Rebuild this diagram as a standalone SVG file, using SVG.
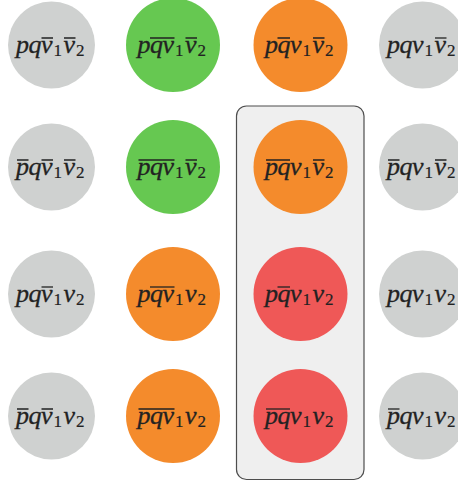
<svg xmlns="http://www.w3.org/2000/svg" width="458" height="483" viewBox="0 0 458 483">
<style>
.gray{fill:#cfd1d0}.green{fill:#66c851}.orange{fill:#f48b2c}.red{fill:#ef5857}
.lbl{font-family:'Liberation Serif','Times New Roman',serif;font-style:italic;font-size:26px;fill:#222;stroke:#222;stroke-width:0.3}
.sub{font-style:normal;font-size:17px;stroke-width:0.2}
.bar{stroke:#222;stroke-width:1.3;fill:none}
.box{fill:#efefef;stroke:#4d4d4d;stroke-width:1.2}
</style>
<rect class="box" x="236.5" y="106" width="127.5" height="373.5" rx="10"/>
<g id="connectors"/>
<!-- Row 1 -->
<g id="r1c1"><circle class="gray" cx="51.5" cy="45" r="43.5"/>
<text class="lbl" y="53.3"><tspan x="16">p</tspan><tspan x="28.5">q</tspan><tspan x="41">v</tspan><tspan class="sub" x="53.5" y="56">1</tspan><tspan x="63.5" y="53.3">v</tspan><tspan class="sub" x="76" y="56">2</tspan></text>
<path class="bar" d="M41.5 38H53M64 38H75.5"/></g>
<g id="r1c2"><circle class="green" cx="173" cy="45" r="47"/>
<text class="lbl" y="53.3"><tspan x="137.5">p</tspan><tspan x="150">q</tspan><tspan x="162.5">v</tspan><tspan class="sub" x="175" y="56">1</tspan><tspan x="185" y="53.3">v</tspan><tspan class="sub" x="197.5" y="56">2</tspan></text>
<path class="bar" d="M150 38H174.5M185.5 38H197"/></g>
<g id="r1c3"><circle class="orange" cx="300.5" cy="45" r="47"/>
<text class="lbl" y="53.3"><tspan x="265">p</tspan><tspan x="277.5">q</tspan><tspan x="290">v</tspan><tspan class="sub" x="302.5" y="56">1</tspan><tspan x="312.5" y="53.3">v</tspan><tspan class="sub" x="325" y="56">2</tspan></text>
<path class="bar" d="M277.5 38H290M313 38H324.5"/></g>
<g id="r1c4"><circle class="gray" cx="422.5" cy="45" r="43.5"/>
<text class="lbl" y="53.3"><tspan x="387">p</tspan><tspan x="399.5">q</tspan><tspan x="412">v</tspan><tspan class="sub" x="424.5" y="56">1</tspan><tspan x="434.5" y="53.3">v</tspan><tspan class="sub" x="447" y="56">2</tspan></text>
<path class="bar" d="M435 38H446.5"/></g>
<!-- Row 2 -->
<g id="r2c1"><circle class="gray" cx="51.5" cy="167" r="43.5"/>
<text class="lbl" y="175.3"><tspan x="16">p</tspan><tspan x="28.5">q</tspan><tspan x="41">v</tspan><tspan class="sub" x="53.5" y="178">1</tspan><tspan x="63.5" y="175.3">v</tspan><tspan class="sub" x="76" y="178">2</tspan></text>
<path class="bar" d="M17 160H28.5M41.5 160H53M64 160H75.5"/></g>
<g id="r2c2"><circle class="green" cx="173" cy="167" r="47"/>
<text class="lbl" y="175.3"><tspan x="137.5">p</tspan><tspan x="150">q</tspan><tspan x="162.5">v</tspan><tspan class="sub" x="175" y="178">1</tspan><tspan x="185" y="175.3">v</tspan><tspan class="sub" x="197.5" y="178">2</tspan></text>
<path class="bar" d="M138.5 160H174.5M185.5 160H197"/></g>
<g id="r2c3"><circle class="orange" cx="300.5" cy="167" r="47"/>
<text class="lbl" y="175.3"><tspan x="265">p</tspan><tspan x="277.5">q</tspan><tspan x="290">v</tspan><tspan class="sub" x="302.5" y="178">1</tspan><tspan x="312.5" y="175.3">v</tspan><tspan class="sub" x="325" y="178">2</tspan></text>
<path class="bar" d="M266 160H290M313 160H324.5"/></g>
<g id="r2c4"><circle class="gray" cx="422.5" cy="167" r="43.5"/>
<text class="lbl" y="175.3"><tspan x="387">p</tspan><tspan x="399.5">q</tspan><tspan x="412">v</tspan><tspan class="sub" x="424.5" y="178">1</tspan><tspan x="434.5" y="175.3">v</tspan><tspan class="sub" x="447" y="178">2</tspan></text>
<path class="bar" d="M388 160H399.5M435 160H446.5"/></g>
<!-- Row 3 -->
<g id="r3c1"><circle class="gray" cx="51.5" cy="294" r="43.5"/>
<text class="lbl" y="302.3"><tspan x="16">p</tspan><tspan x="28.5">q</tspan><tspan x="41">v</tspan><tspan class="sub" x="53.5" y="305">1</tspan><tspan x="63.5" y="302.3">v</tspan><tspan class="sub" x="76" y="305">2</tspan></text>
<path class="bar" d="M41.5 287H53"/></g>
<g id="r3c2"><circle class="orange" cx="173" cy="294" r="47"/>
<text class="lbl" y="302.3"><tspan x="137.5">p</tspan><tspan x="150">q</tspan><tspan x="162.5">v</tspan><tspan class="sub" x="175" y="305">1</tspan><tspan x="185" y="302.3">v</tspan><tspan class="sub" x="197.5" y="305">2</tspan></text>
<path class="bar" d="M150 287H174.5"/></g>
<g id="r3c3"><circle class="red" cx="300.5" cy="294" r="47"/>
<text class="lbl" y="302.3"><tspan x="265">p</tspan><tspan x="277.5">q</tspan><tspan x="290">v</tspan><tspan class="sub" x="302.5" y="305">1</tspan><tspan x="312.5" y="302.3">v</tspan><tspan class="sub" x="325" y="305">2</tspan></text>
<path class="bar" d="M277.5 287H290"/></g>
<g id="r3c4"><circle class="gray" cx="422.5" cy="294" r="43.5"/>
<text class="lbl" y="302.3"><tspan x="387">p</tspan><tspan x="399.5">q</tspan><tspan x="412">v</tspan><tspan class="sub" x="424.5" y="305">1</tspan><tspan x="434.5" y="302.3">v</tspan><tspan class="sub" x="447" y="305">2</tspan></text></g>
<!-- Row 4 -->
<g id="r4c1"><circle class="gray" cx="51.5" cy="416" r="43.5"/>
<text class="lbl" y="424.3"><tspan x="16">p</tspan><tspan x="28.5">q</tspan><tspan x="41">v</tspan><tspan class="sub" x="53.5" y="427">1</tspan><tspan x="63.5" y="424.3">v</tspan><tspan class="sub" x="76" y="427">2</tspan></text>
<path class="bar" d="M17 409H28.5M41.5 409H53"/></g>
<g id="r4c2"><circle class="orange" cx="173" cy="416" r="47"/>
<text class="lbl" y="424.3"><tspan x="137.5">p</tspan><tspan x="150">q</tspan><tspan x="162.5">v</tspan><tspan class="sub" x="175" y="427">1</tspan><tspan x="185" y="424.3">v</tspan><tspan class="sub" x="197.5" y="427">2</tspan></text>
<path class="bar" d="M138.5 409H174.5"/></g>
<g id="r4c3"><circle class="red" cx="300.5" cy="416" r="47"/>
<text class="lbl" y="424.3"><tspan x="265">p</tspan><tspan x="277.5">q</tspan><tspan x="290">v</tspan><tspan class="sub" x="302.5" y="427">1</tspan><tspan x="312.5" y="424.3">v</tspan><tspan class="sub" x="325" y="427">2</tspan></text>
<path class="bar" d="M266 409H290"/></g>
<g id="r4c4"><circle class="gray" cx="422.5" cy="416" r="43.5"/>
<text class="lbl" y="424.3"><tspan x="387">p</tspan><tspan x="399.5">q</tspan><tspan x="412">v</tspan><tspan class="sub" x="424.5" y="427">1</tspan><tspan x="434.5" y="424.3">v</tspan><tspan class="sub" x="447" y="427">2</tspan></text>
<path class="bar" d="M388 409H399.5"/></g>
</svg>
